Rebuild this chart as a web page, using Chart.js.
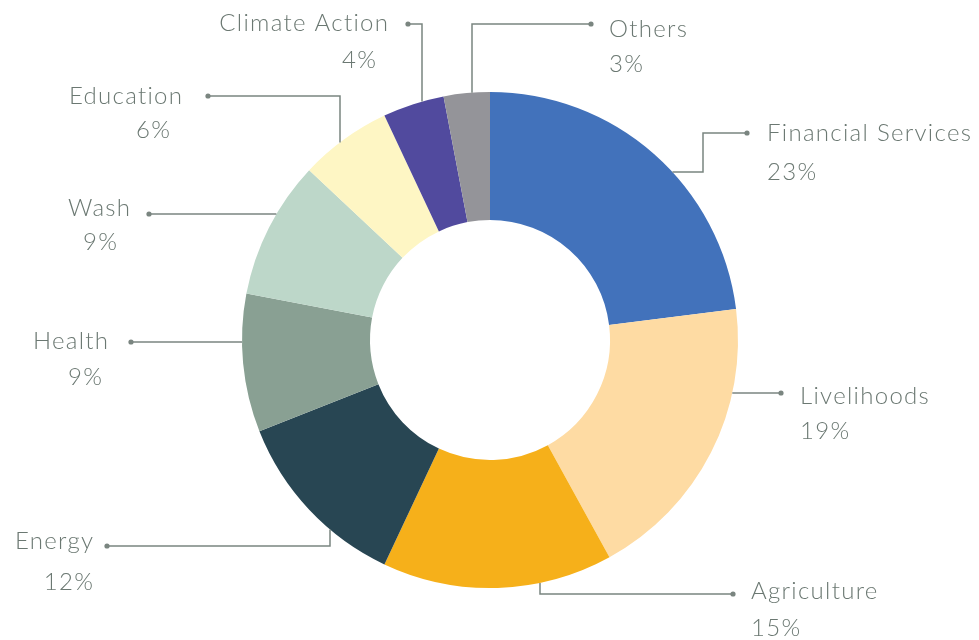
<!DOCTYPE html>
<html>
<head>
<meta charset="utf-8">
<script src="https://cdn.jsdelivr.net/npm/chart.js@4.4.1/dist/chart.umd.min.js"></script>
<style>
  html, body { margin: 0; padding: 0; background: #ffffff; }
  canvas { display: block; }
</style>
</head>
<body>
<canvas id="chart" width="979" height="640"></canvas>
<script>
// Sector split, percent of portfolio
var categories = ['Financial Services', 'Livelihoods', 'Agriculture', 'Energy', 'Health',
  'Wash', 'Education', 'Climate Action', 'Others'];
var shares = [23, 19, 15, 12, 9, 9, 6, 4, 3];
var sliceColors = ['#4272bb', '#fedba3', '#f6b01a', '#284653', '#89a093',
  '#bdd7c9', '#fef6c4', '#514a9e', '#949499'];

// Leader layout, offsets in px from the doughnut centre.
// from: where the leader leaves the ring ('h' = along a horizontal line at y,
// 'v' = along a vertical line at x), side tells which half of the ring.
var leaders = [
  { from: { h: -168, side: 1 }, pts: [[213, -168], [213, -207], [257, -207]],
    align: 'left', tx: 277, ty: [-207, -168] },
  { from: { h: 53, side: 1 }, pts: [[291, 53]],
    align: 'left', tx: 310, ty: [56, 91] },
  { from: { v: 50, side: 1 }, pts: [[50, 254], [243, 254]],
    align: 'left', tx: 261, ty: [251, 288] },
  { from: { v: -160, side: 1 }, pts: [[-160, 206], [-383, 206]],
    align: 'right', tx: [-397, -397], ty: [201, 242] },
  { from: { h: 2, side: -1 }, pts: [[-359, 2]],
    align: 'right', tx: [-382, -388], ty: [1, 37] },
  { from: { h: -126, side: -1 }, pts: [[-341, -126]],
    align: 'right', tx: [-360, -373], ty: [-132, -98] },
  { from: { v: -150, side: -1 }, pts: [[-150, -244], [-282, -244]],
    align: 'right', tx: [-308, -320], ty: [-244, -210] },
  { from: { v: -68, side: -1 }, pts: [[-68, -316], [-82, -316]],
    align: 'right', tx: [-102, -114], ty: [-317, -280] },
  { from: { v: -18, side: -1 }, pts: [[-18, -316], [101, -316]],
    align: 'left', tx: 119, ty: [-311, -276] }
];

var textColor = '#6b7872';
var lineColor = '#7a8580';
var spacing = 1.3;

// Draws the elbow leaders, dots and the two-line labels
var leaderLabels = {
  id: 'leaderLabels',
  afterDraw: function (chart) {
    var ctx = chart.ctx;
    var arc = chart.getDatasetMeta(0).data[0];
    var cx = arc.x, cy = arc.y, R = arc.outerRadius;
    var total = shares.reduce(function (a, b) { return a + b; }, 0);

    ctx.save();
    leaders.forEach(function (ld, i) {
      var start;
      if (ld.from.h !== undefined) {
        var y = ld.from.h;
        start = [ld.from.side * Math.sqrt(R * R - y * y), y];
      } else {
        var x = ld.from.v;
        start = [x, ld.from.side * Math.sqrt(R * R - x * x)];
      }

      ctx.strokeStyle = lineColor;
      ctx.lineWidth = 1.5;
      ctx.beginPath();
      ctx.moveTo(cx + start[0], cy + start[1]);
      ld.pts.forEach(function (p) { ctx.lineTo(cx + p[0], cy + p[1]); });
      ctx.stroke();

      var end = ld.pts[ld.pts.length - 1];
      ctx.fillStyle = lineColor;
      ctx.beginPath();
      ctx.arc(cx + end[0], cy + end[1], 2.6, 0, Math.PI * 2);
      ctx.fill();

      var pct = Math.round(shares[i] / total * 100) + '%';
      var lines = [categories[i], pct];
      ctx.fillStyle = textColor;
      ctx.font = '300 24px Lato, "Open Sans", sans-serif';
      ctx.letterSpacing = spacing + 'px';
      ctx.textAlign = ld.align;
      ctx.textBaseline = 'middle';
      lines.forEach(function (t, k) {
        var tx = Array.isArray(ld.tx) ? ld.tx[k] : ld.tx;
        if (ld.align === 'right') tx += spacing;
        ctx.fillText(t, cx + tx, cy + ld.ty[k]);
      });
    });
    ctx.restore();
  }
};

new Chart(document.getElementById('chart'), {
  type: 'doughnut',
  data: {
    labels: categories,
    datasets: [{
      data: shares,
      backgroundColor: sliceColors,
      borderWidth: 0,
      hoverOffset: 0
    }]
  },
  options: {
    responsive: false,
    animation: false,
    cutout: '48.4%',
    layout: { padding: { left: 242, right: 241, top: 92, bottom: 52 } },
    plugins: {
      legend: { display: false },
      tooltip: { enabled: false }
    }
  },
  plugins: [leaderLabels]
});
</script>
</body>
</html>
